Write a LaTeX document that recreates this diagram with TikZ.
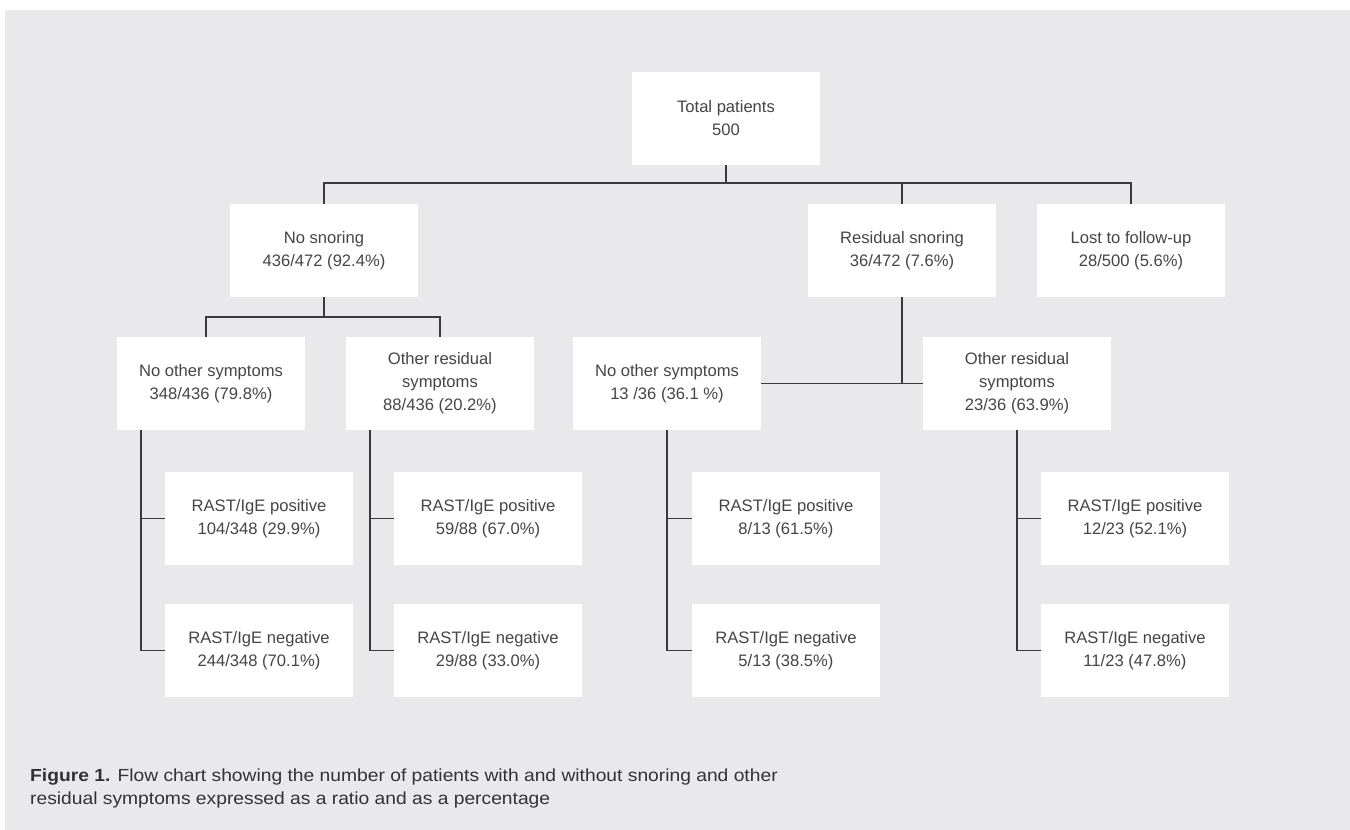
\documentclass[tikz,border=0pt]{standalone}
\usepackage{fontspec}
\setmainfont{Liberation Sans}
\newfontfamily\captionFont{Liberation Sans}[FakeStretch=1.1]
\definecolor{bgGray}{HTML}{E9E9EB}
\definecolor{boxText}{HTML}{454547}
\definecolor{linkGray}{HTML}{3A3A3C}
\definecolor{captionGray}{HTML}{333335}
\def\boxW{188pt}
\def\boxH{93pt}
\def\trunkShift{24pt}
\tikzset{
  chart/.style={x=1pt,y=-1pt},
  boxNode/.style={
    fill=white,
    inner sep=0pt,
    minimum width=\boxW,
    minimum height=\boxH,
    align=center,
    text=boxText,
    font=\fontsize{16.6}{23}\selectfont
  },
  link/.style={draw=linkGray,line width=1.5pt},
  captionNode/.style={
    inner sep=0pt,
    align=left,
    text=captionGray,
    font=\captionFont\fontsize{17.5}{23}\selectfont
  }
}

\begin{document}
\begin{tikzpicture}[chart]
    \useasboundingbox (0,0) rectangle (1350,830);
    \fill[bgGray] (5,10) rectangle (1350,830);

    \node[boxNode] (total) at (726,118.5) {Total patients\\500};

    \node[boxNode] (noSnore) at (324,250.5) {No snoring\\436/472 (92.4\%)};
    \node[boxNode] (resSnore) at (902,250.5) {Residual snoring\\36/472 (7.6\%)};
    \node[boxNode] (lost) at (1131,250.5) {Lost to follow-up\\28/500 (5.6\%)};

    \node[boxNode] (noOtherL) at (211,383.5) {No other symptoms\\348/436 (79.8\%)};
    \node[boxNode] (otherResL) at (440,383.5) {Other residual\\symptoms\\88/436 (20.2\%)};
    \node[boxNode] (noOtherR) at (667,383.5) {No other symptoms\\13 /36 (36.1 \%)};
    \node[boxNode] (otherResR) at (1017,383.5) {Other residual\\symptoms\\23/36 (63.9\%)};

    \node[boxNode] (posL) at (259,518.5) {RAST/IgE positive\\104/348 (29.9\%)};
    \node[boxNode] (negL) at (259,650.5) {RAST/IgE negative\\244/348 (70.1\%)};
    \node[boxNode] (posOL) at (488,518.5) {RAST/IgE positive\\59/88 (67.0\%)};
    \node[boxNode] (negOL) at (488,650.5) {RAST/IgE negative\\29/88 (33.0\%)};
    \node[boxNode] (posR) at (786,518.5) {RAST/IgE positive\\8/13 (61.5\%)};
    \node[boxNode] (negR) at (786,650.5) {RAST/IgE negative\\5/13 (38.5\%)};
    \node[boxNode] (posOR) at (1135,518.5) {RAST/IgE positive\\12/23 (52.1\%)};
    \node[boxNode] (negOR) at (1135,650.5) {RAST/IgE negative\\11/23 (47.8\%)};

    \coordinate (topBar) at (726,183);
    \draw[link] (total) -- (topBar);
    \draw[link] (noSnore.north) |- (topBar) -| (lost.north);
    \draw[link] (resSnore.north) -- (resSnore.north |- topBar);

    \draw[link] (noSnore.south) -- ++(0,20) coordinate (noSnoreBar);
    \draw[link] ([xshift=-5pt]noOtherL.north) |- (noSnoreBar) -| (otherResL.north);

    \draw[link] (noOtherR.east) -- (otherResR.west);
    \draw[link] (resSnore.south) -- (resSnore.south |- noOtherR.east);

    \draw[link] ([xshift=\trunkShift]noOtherL.south west) |- (posL.west);
    \draw[link] ([xshift=\trunkShift]noOtherL.south west) |- (negL.west);
    \draw[link] ([xshift=\trunkShift]otherResL.south west) |- (posOL.west);
    \draw[link] ([xshift=\trunkShift]otherResL.south west) |- (negOL.west);
    \draw[link] (noOtherR.south) |- (posR.west);
    \draw[link] (noOtherR.south) |- (negR.west);
    \draw[link] (otherResR.south) |- (posOR.west);
    \draw[link] (otherResR.south) |- (negOR.west);

    \node[captionNode,anchor=north west] (caption) at (30,769)
      {\textbf{Figure 1.} Flow chart showing the number of patients with and without snoring and other\\
       residual symptoms expressed as a ratio and as a percentage};
\end{tikzpicture}
\end{document}
